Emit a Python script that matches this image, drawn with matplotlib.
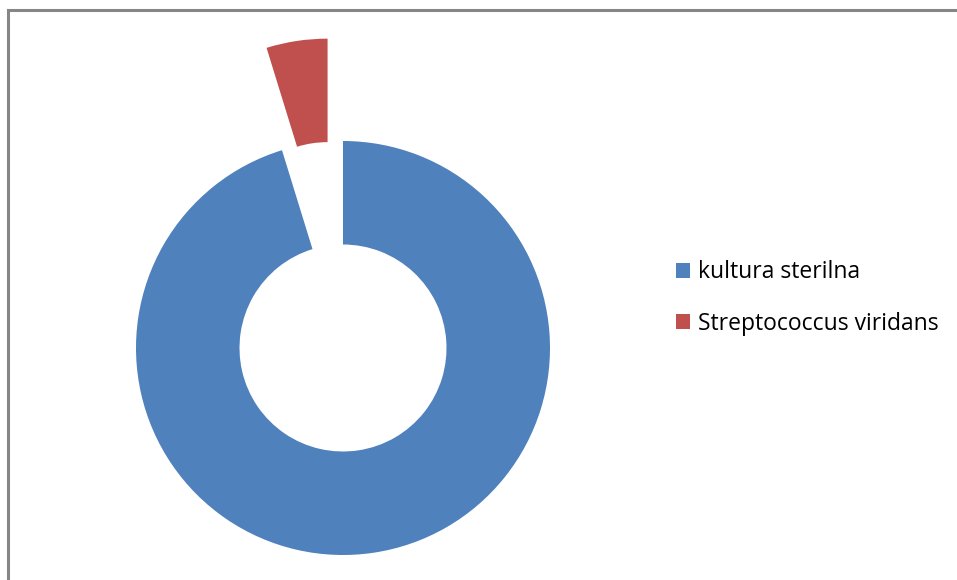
import matplotlib
matplotlib.use("Agg")
import matplotlib.pyplot as plt
from matplotlib.patches import Rectangle

# dane
labels = ["kultura sterilna", "Streptococcus viridans"]
values = [20, 1]
colors = ["#4F81BD", "#C0504D"]
explode = [0, 0.5]

W, H = 957, 580
plt.rcParams["font.family"] = ["Open Sans", "DejaVu Sans"]

fig = plt.figure(figsize=(W / 100, H / 100), dpi=100, facecolor="white")

# obramowanie wykresu (widoczny tylko lewy i górny brzeg)
fig.patches.append(Rectangle((8 / W, -0.1), 1.2, (H - 10) / H + 0.1,
                             transform=fig.transFigure, fill=False,
                             edgecolor="#868686", linewidth=2.2))

# pierścień: środek (343, 348 od góry), promień 207 px
cx, cy, R = 343, H - 348, 207
S = 640
ax = fig.add_axes([(cx - S / 2) / W, (cy - S / 2) / H, S / W, S / H])
L = S / 2 / R
wedges, _ = ax.pie(values, colors=colors, explode=explode, startangle=90,
                   counterclock=False, radius=1.0,
                   wedgeprops=dict(width=0.5, edgecolor="none"))
ax.set_xlim(-L, L)
ax.set_ylim(-L, L)
ax.set_aspect("equal")
ax.axis("off")

leg = fig.legend(wedges, labels, loc="center left",
                 bbox_to_anchor=(655 / W, (H - 298) / H),
                 frameon=False, fontsize=16.5, handlelength=0.62,
                 handleheight=0.62, handletextpad=0.35, labelspacing=1.18)

fig.savefig("out.png", dpi=100, facecolor="white")
